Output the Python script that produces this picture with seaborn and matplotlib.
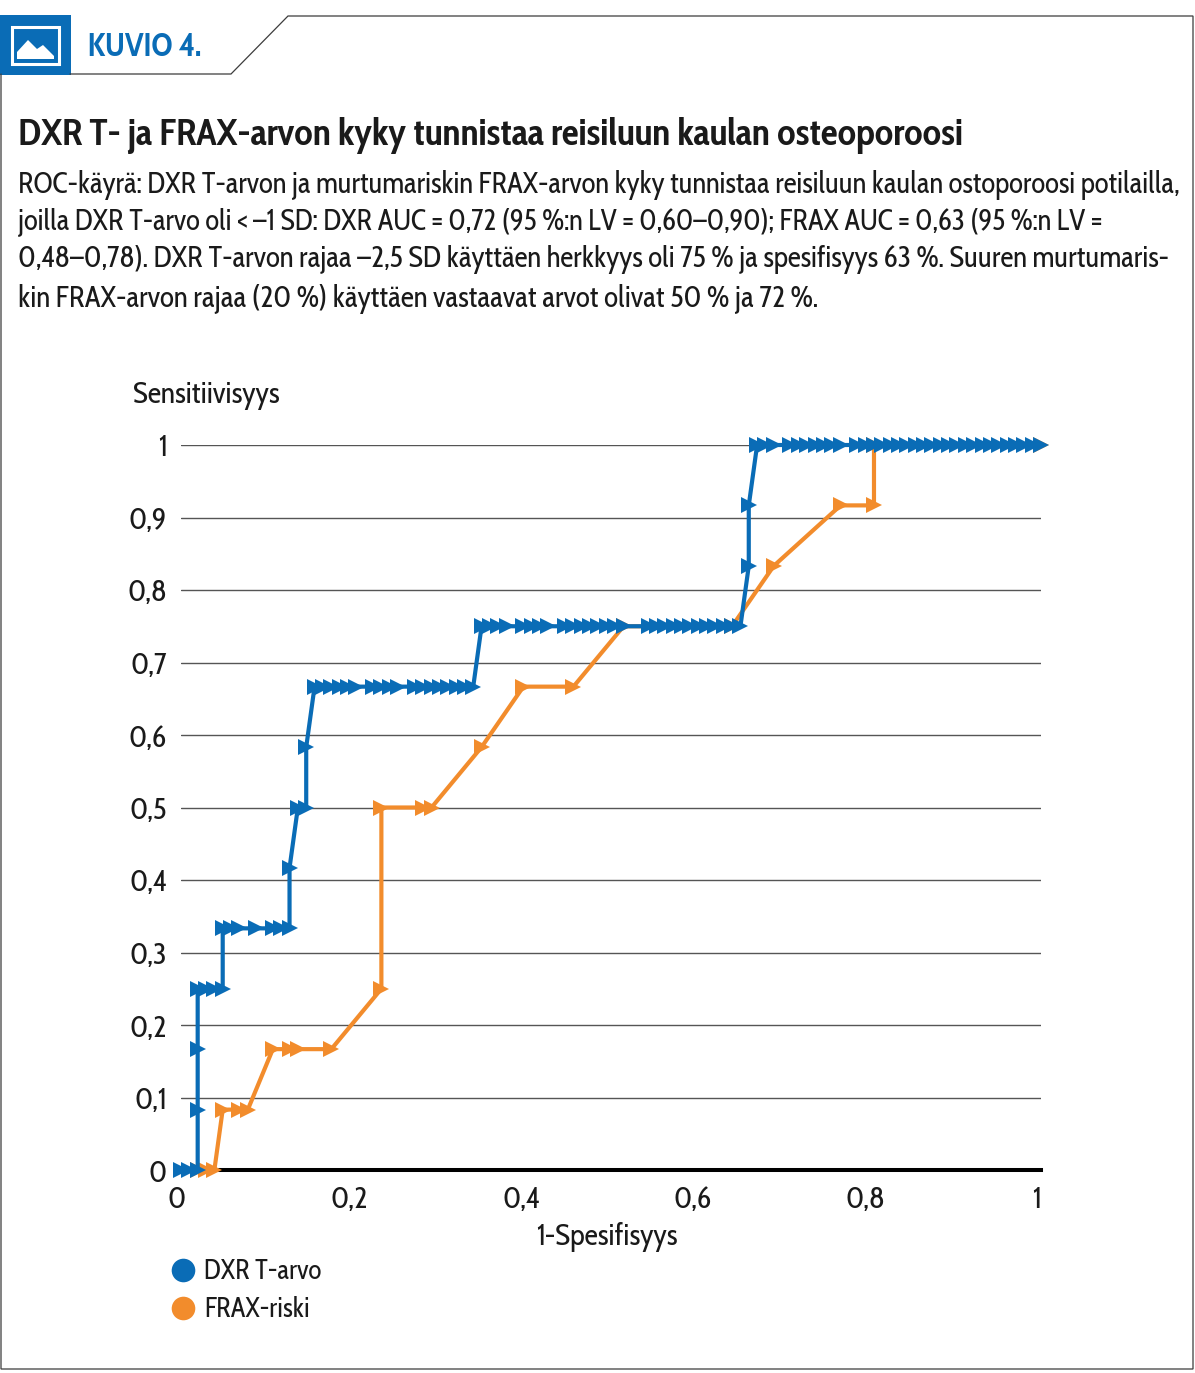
import matplotlib
matplotlib.use("Agg")
import matplotlib.pyplot as plt
import matplotlib.font_manager as fm
import matplotlib.transforms as mtrans
from matplotlib.lines import Line2D
from matplotlib.patches import Rectangle, Polygon
import seaborn as sns
import pandas as pd

W, H = 1195, 1373
names = {f.name for f in fm.fontManager.ttflist}
FONT = next((n for n in ["Cabin Condensed", "Asap Condensed", "Archivo Narrow", "Roboto"] if n in names), "Liberation Sans")

sns.set_theme(style="white")
plt.rcParams['font.family'] = [FONT, 'DejaVu Sans']

BLUE = "#0A6CB6"
ORANGE = "#F28C2C"
INK = "#1a1a1a"

dxr_x = [0, .0097, .0194, .0194, .0194, .0194, .0291, .0388, .0485, .0485, .0583, .0680, .0874, .1068, .1165, .1262,
         .1262, .1359, .1456, .1456, .1553, .1650, .1748, .1845, .1942, .2039, .2233, .2330, .2427, .2524,
         .2718, .2816, .2913, .3010, .3107, .3204, .3301, .3398,
         .3495, .3592, .3689, .3786, .3981, .4078, .4175, .4272, .4466, .4563, .4660, .4757, .4854, .4951, .5049, .5146,
         .5437, .5534, .5631, .5728, .5825, .5922, .6019, .6117, .6214, .6311, .6408, .6505,
         .6602, .6602, .6699, .6796, .6893, .7087, .7184, .7282, .7379, .7476, .7573, .7670,
         .7864, .7961, .8058, .8155, .8252, .8350, .8447, .8544, .8641, .8738, .8835, .8932, .9029, .9126, .9223,
         .9320, .9417, .9515, .9612, .9709, .9806, .9903, 1]
dxr_y = [0, 0, 0, .0833, .1667, .25, .25, .25, .25, .3333, .3333, .3333, .3333, .3333, .3333, .3333,
         .4167, .5, .5, .5833, .6667, .6667, .6667, .6667, .6667, .6667, .6667, .6667, .6667, .6667,
         .6667, .6667, .6667, .6667, .6667, .6667, .6667, .6667,
         .75, .75, .75, .75, .75, .75, .75, .75, .75, .75, .75, .75, .75, .75, .75, .75,
         .75, .75, .75, .75, .75, .75, .75, .75, .75, .75, .75, .75,
         .8333, .9167, 1, 1, 1, 1, 1, 1, 1, 1, 1, 1,
         1, 1, 1, 1, 1, 1, 1, 1, 1, 1, 1, 1, 1, 1, 1,
         1, 1, 1, 1, 1, 1, 1, 1]

frax_x = [.0194, .0291, .0388, .0485, .0680, .0777, .1068, .1262, .1359, .1748, .2330, .2330, .2816, .2913,
          .3495, .3981, .4563, .5146, .6408, .6893, .7670, .8058, .8058, 1]
frax_y = [0, 0, 0, .0833, .0833, .0833, .1667, .1667, .1667, .1667, .25, .5, .5, .5,
          .5833, .6667, .6667, .75, .75, .8333, .9167, .9167, 1, 1]

x_ticks = [0, .2, .4, .6, .8, 1]
x_labels = ["0", "0,2", "0,4", "0,6", "0,8", "1"]
y_ticks = [0, .1, .2, .3, .4, .5, .6, .7, .8, .9, 1]
y_labels = ["0", "0,1", "0,2", "0,3", "0,4", "0,5", "0,6", "0,7", "0,8", "0,9", "1"]

fig = plt.figure(figsize=(W / 100, H / 100), dpi=100, facecolor="white")
renderer = fig.canvas.get_renderer()

def fit(s, px, **kw):
    t = fig.text(0, 0, s, fontsize=20, **kw)
    w = t.get_window_extent(renderer).width
    t.remove()
    return 20 * px / w

# decoration layer in pixel coordinates
bg = fig.add_axes([0, 0, 1, 1])
bg.set_xlim(0, W); bg.set_ylim(H, 0); bg.axis("off")
FR = "#3c3c3c"
bg.plot([1, 1, 1193, 1193, 288, 231, 70], [74, 1369, 1369, 16, 16, 74, 74], color=FR, lw=0.9, solid_joinstyle="miter")
bg.add_patch(Rectangle((0, 15), 71, 60, color=BLUE, lw=0))
bg.add_patch(Rectangle((12, 27), 47, 37, fill=False, ec="white", lw=2.2))
bg.add_patch(Polygon([(17, 59), (17, 52), (28, 40), (37, 49), (43, 45), (54, 56), (54, 59)], color="white", lw=0))

def txt(x, y, s, size, **kw):
    return fig.text(x / W, 1 - y / H, s, fontsize=size, va="center", **kw)

KUVIO = "KUVIO 4."
TITLE = "DXR T- ja FRAX-arvon kyky tunnistaa reisiluun kaulan osteoporoosi"
txt(88, 47, KUVIO, fit(KUVIO, 113, fontweight="bold"), color=BLUE, fontweight="bold")
txt(18, 135, TITLE, fit(TITLE, 944, fontweight="bold"), color=INK, fontweight="bold")
body = [
    "ROC-käyrä: DXR T-arvon ja murtumariskin FRAX-arvon kyky tunnistaa reisiluun kaulan ostoporoosi potilailla,",
    "joilla DXR T-arvo oli < –1 SD: DXR AUC = 0,72 (95 %:n LV = 0,60–0,90); FRAX AUC = 0,63 (95 %:n LV =",
    "0,48–0,78). DXR T-arvon rajaa –2,5 SD käyttäen herkkyys oli 75 % ja spesifisyys 63 %. Suuren murtumaris-",
    "kin FRAX-arvon rajaa (20 %) käyttäen vastaavat arvot olivat 50 % ja 72 %.",
]
for yy, px, line in zip([185, 222, 260, 299], [1160, 1084, 1152, 798], body):
    txt(18, yy, line, fit(line, px), color=INK)

label_size = fit("Sensitiivisyys", 147)
legend_size = fit("DXR T-arvo", 117)

# chart
ax = fig.add_axes([181 / W, 1 - 1170 / H, 860 / W, 725 / H])
ax.set_facecolor("none")
for spine in ["top", "right", "left"]:
    ax.spines[spine].set_visible(False)
ax.spines["bottom"].set_color("black")
ax.spines["bottom"].set_linewidth(2.9)
ax.set_axisbelow(True)
ax.yaxis.grid(True, color="#555555", lw=1.0)
ax.xaxis.grid(False)

frax = pd.DataFrame({"x": frax_x, "y": frax_y})
dxr = pd.DataFrame({"x": dxr_x, "y": dxr_y})
common = dict(x="x", y="y", sort=False, estimator=None, marker=">", markersize=11,
              markeredgewidth=0, linewidth=3.0, clip_on=False, ax=ax, legend=False, zorder=3)
sns.lineplot(data=frax, color=ORANGE, **common)
sns.lineplot(data=dxr, color=BLUE, **common)

ax.set_xlim(0, 1); ax.set_ylim(0, 1)
ax.set_xticks(x_ticks); ax.set_xticklabels(x_labels)
ax.set_yticks(y_ticks); ax.set_yticklabels(y_labels)
ax.tick_params(axis="both", length=0, labelsize=label_size, labelcolor=INK)
ax.tick_params(axis="x", pad=11)
ax.tick_params(axis="y", pad=10)
shift = mtrans.ScaledTranslation(-4 / 100, 0, fig.dpi_scale_trans)
for lb in ax.get_xticklabels():
    lb.set_transform(lb.get_transform() + shift)
ax.set_xlabel("")
ax.set_ylabel("")
txt(133, 395, "Sensitiivisyys", label_size, color=INK)
txt(607, 1237, "1-Spesifisyys", label_size, color=INK, ha="center")

handles = [Line2D([], [], ls="", marker="o", ms=17, color=BLUE, mew=0),
           Line2D([], [], ls="", marker="o", ms=17, color=ORANGE, mew=0)]
fig.legend(handles, ["DXR T-arvo", "FRAX-riski"], loc="upper left",
           bbox_to_anchor=(161 / W, 1 - 1258 / H), frameon=False, fontsize=legend_size,
           labelcolor=INK, handletextpad=0.0, labelspacing=0.37, borderpad=0, borderaxespad=0, handlelength=1.6)

fig.savefig("out.png", dpi=100)
